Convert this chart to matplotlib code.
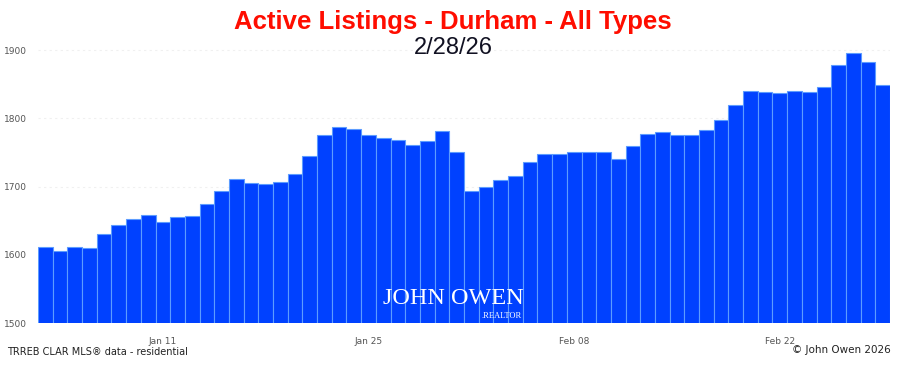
import matplotlib
matplotlib.use("Agg")
import matplotlib.pyplot as plt
import pandas as pd

# daily active listings
dates = pd.date_range("2026-01-03", periods=58, freq="D")
listings = [
    1612, 1605, 1612, 1610, 1631, 1643, 1652, 1658, 1648, 1655,
    1657, 1675, 1694, 1711, 1705, 1704, 1706, 1718, 1745, 1775,
    1787, 1784, 1775, 1771, 1768, 1761, 1767, 1782, 1750, 1694,
    1700, 1709, 1715, 1736, 1747, 1747, 1751, 1750, 1750, 1741,
    1760, 1777, 1780, 1776, 1775, 1783, 1797, 1820, 1840, 1839,
    1837, 1840, 1838, 1846, 1878, 1896, 1883, 1849,
]
tick_dates = ["2026-01-11", "2026-01-25", "2026-02-08", "2026-02-22"]
y_ticks = [1500, 1600, 1700, 1800, 1900]

W, H = 898, 366
fig = plt.figure(figsize=(W / 100, H / 100), dpi=100)
ax = fig.add_axes([38 / W, (H - 323) / H, (890 - 38) / W, (323 - 38) / H])

x = list(range(len(listings)))
ax.bar(x, listings, width=1.0, color="#0041ff", edgecolor="#5c9cff",
       linewidth=0.8, zorder=2)

ax.set_xlim(-0.5, len(listings) - 0.5)
ax.set_ylim(1500, 1917.6)

tick_pos = [list(dates).index(pd.Timestamp(d)) for d in tick_dates]
ax.set_xticks(tick_pos)
ax.set_xticklabels([pd.Timestamp(d).strftime("%b %d") for d in tick_dates],
                   fontsize=6.5, color="#555555", family="Liberation Sans Narrow")
ax.set_yticks(y_ticks)
ax.set_yticklabels([str(v) for v in y_ticks], fontsize=6.5, color="#555555",
                   family="Liberation Sans Narrow")
ax.tick_params(length=0, pad=10)
ax.tick_params(axis="y", pad=8)
ax.grid(axis="y", color="#f0f0f0", linestyle=(0, (2, 3)), linewidth=0.8, zorder=0)
for s in ax.spines.values():
    s.set_visible(False)

fig.text(453 / W, 1 - 22 / H, "Active Listings - Durham - All Types",
         ha="center", va="center", color="#ff0d00", fontsize=18.5,
         fontweight="bold", family=["Liberation Sans Narrow", "Liberation Sans"])
fig.text(453 / W, 1 - 48 / H, "2/28/26", ha="center", va="center",
         color="#111122", fontsize=17, family=["Liberation Sans Narrow", "Liberation Sans"])

# watermark
fig.text(453 / W, 1 - 298 / H, "JOHN OWEN", ha="center", va="center",
         color="white", fontsize=17.5, family="Liberation Serif", zorder=5)
fig.text(522 / W, 1 - 316 / H, ".REALTOR", ha="right", va="center",
         color="white", fontsize=6, family="Liberation Serif", zorder=5)

fig.text(7 / W, 1 - 352 / H, "TRREB CLAR MLS\u00ae data - residential",
         ha="left", va="center", fontsize=7, color="#222222",
         family="Liberation Sans Narrow")
fig.text(891 / W, 1 - 350 / H, "\u00a9 John Owen 2026", ha="right", va="center",
         fontsize=7.5, color="#222222", family="Liberation Sans Narrow")

fig.savefig("out.png", dpi=100)
